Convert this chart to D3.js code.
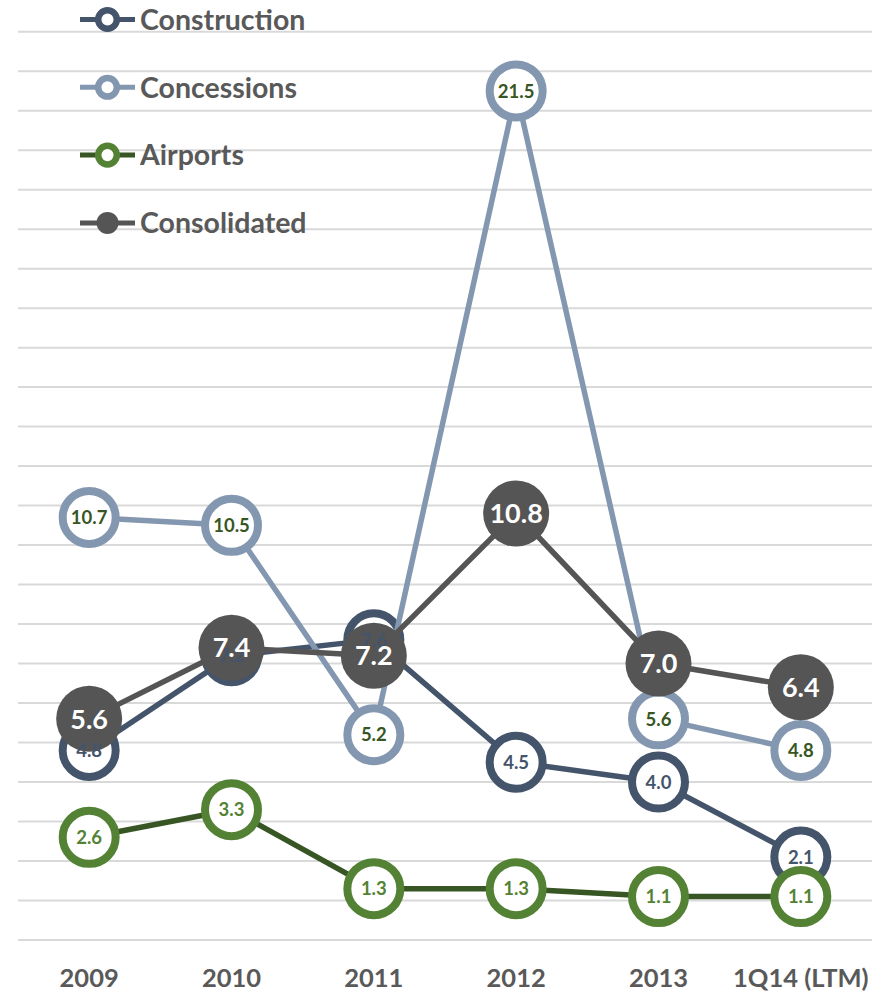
<!DOCTYPE html>
<html>
<head>
<meta charset="utf-8">
<script src="https://cdn.jsdelivr.net/npm/d3@7"></script>
<style>
  html, body { margin: 0; padding: 0; background: #fff; }
  svg { display: block; font-family: Lato, "Open Sans", sans-serif; }
</style>
</head>
<body>
<svg id="chart" width="884" height="991"></svg>
<script>
// Periods on the horizontal axis
const categories = ["2009", "2010", "2011", "2012", "2013", "1Q14 (LTM)"];

// Values per business line
const construction = [4.8, 7.2, 7.6, 4.5, 4.0, 2.1];
const concessions  = [10.7, 10.5, 5.2, 21.5, 5.6, 4.8];
const airports     = [2.6, 3.3, 1.3, 1.3, 1.1, 1.1];
const consolidated = [5.6, 7.4, 7.2, 10.8, 7.0, 6.4];

// Gridline values
const gridTicks = d3.range(0, 24, 1);

const series = [
  { name: "Construction", values: construction, line: "#44546a", stroke: "#44546a", label: "#44546a", filled: false },
  { name: "Concessions",  values: concessions,  line: "#8497b0", stroke: "#8497b0", label: "#375623", filled: false },
  { name: "Airports",     values: airports,     line: "#375623", stroke: "#548235", label: "#548235", filled: false },
  { name: "Consolidated", values: consolidated, line: "#555555", stroke: "#555555", label: "#ffffff", filled: true }
];

const svg = d3.select("#chart");

const x = d3.scaleBand().domain(categories).range([18, 872]).padding(0);
const cx = c => x(c) + x.bandwidth() / 2;
const y = d3.scaleLinear().domain([0, 23]).range([940, 31.7]);

// Horizontal gridlines
svg.append("g")
  .selectAll("line")
  .data(gridTicks)
  .join("line")
  .attr("x1", 18).attr("x2", 872)
  .attr("y1", d => y(d)).attr("y2", d => y(d))
  .attr("stroke", "#d9d9d9")
  .attr("stroke-width", 2);

// Category labels
svg.append("g")
  .selectAll("text")
  .data(categories)
  .join("text")
  .attr("x", d => cx(d))
  .attr("y", 987)
  .attr("text-anchor", "middle")
  .attr("font-size", 25.5)
  .attr("font-weight", 700)
  .attr("fill", "#595959")
  .text(d => d);

const lineGen = d3.line()
  .x((d, i) => cx(categories[i]))
  .y(d => y(d));

// Each series: line then markers, drawn in order
series.forEach(s => {
  const g = svg.append("g");
  g.append("path")
    .datum(s.values)
    .attr("d", lineGen)
    .attr("fill", "none")
    .attr("stroke", s.line)
    .attr("stroke-width", 5.5)
    .attr("stroke-linejoin", "round");
  g.selectAll("circle")
    .data(s.values)
    .join("circle")
    .attr("cx", (d, i) => cx(categories[i]))
    .attr("cy", d => y(d))
    .attr("r", s.filled ? 33 : 26.5)
    .attr("fill", s.filled ? s.stroke : "#ffffff")
    .attr("stroke", s.filled ? "none" : s.stroke)
    .attr("stroke-width", 8);
});

// Data labels above all marks
series.forEach(s => {
  svg.append("g")
    .selectAll("text")
    .data(s.values)
    .join("text")
    .attr("x", (d, i) => cx(categories[i]))
    .attr("y", d => y(d))
    .attr("dy", "0.36em")
    .attr("text-anchor", "middle")
    .attr("font-size", s.filled ? 27 : 18.5)
    .attr("font-weight", 700)
    .attr("fill", s.label)
    .text(d => d3.format(".1f")(d));
});

// Legend
const legend = svg.append("g");
series.forEach((s, i) => {
  const ly = 19.5 + i * 67.8;
  const item = legend.append("g");
  item.append("line")
    .attr("x1", 80).attr("x2", 135)
    .attr("y1", ly).attr("y2", ly)
    .attr("stroke", s.line)
    .attr("stroke-width", 5);
  item.append("circle")
    .attr("cx", 107.5).attr("cy", ly)
    .attr("r", s.filled ? 11 : 9.3)
    .attr("fill", s.filled ? s.stroke : "#ffffff")
    .attr("stroke", s.filled ? "none" : s.stroke)
    .attr("stroke-width", 6.5);
  item.append("text")
    .attr("x", 140).attr("y", ly)
    .attr("dy", "0.36em")
    .attr("font-size", 28.5)
    .attr("font-weight", 700)
    .attr("fill", "#595959")
    .text(s.name);
});
</script>
</body>
</html>
